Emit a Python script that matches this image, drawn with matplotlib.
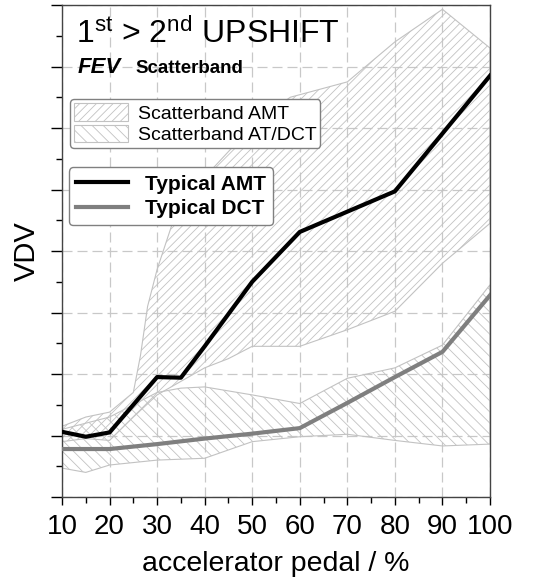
import matplotlib.pyplot as plt
import numpy as np

plt.rcParams['font.family'] = ['Liberation Sans', 'DejaVu Sans']
plt.rcParams['mathtext.default'] = 'regular'
plt.rcParams['hatch.linewidth'] = 0.6

# typical curves
pedal_amt = [10, 15, 20, 30, 35, 40, 50, 60, 80, 100]
vdv_amt = [1.06, 0.98, 1.05, 1.95, 1.94, 2.45, 3.5, 4.31, 4.97, 6.85]
pedal_dct = [10, 20, 30, 40, 50, 60, 70, 80, 90, 100]
vdv_dct = [0.78, 0.78, 0.86, 0.95, 1.03, 1.12, 1.53, 1.95, 2.36, 3.28]

# scatterband AMT (upper / lower edge)
amt_up_x = [10, 15, 20, 25, 26.5, 28, 30, 33, 36, 40, 46, 50, 58, 70, 80, 90, 100]
amt_up_y = [1.15, 1.3, 1.38, 1.7, 2.3, 3.1, 3.7, 4.4, 4.85, 5.2, 5.7, 6.05, 6.5, 6.75, 7.4, 7.93, 7.3]
amt_lo_x = [10, 15, 20, 25, 30, 40, 45, 50, 60, 70, 80, 90, 100]
amt_lo_y = [0.9, 0.95, 0.92, 1.3, 1.66, 2.1, 2.25, 2.45, 2.45, 2.72, 3.02, 3.8, 4.45]

# scatterband AT/DCT (upper / lower edge)
dct_up_x = [10, 15, 20, 25, 30, 35, 40, 50, 60, 70, 80, 90, 100]
dct_up_y = [1.1, 1.2, 1.3, 1.5, 1.7, 1.77, 1.79, 1.66, 1.52, 1.93, 2.1, 2.47, 3.45]
dct_lo_x = [10, 15, 20, 30, 40, 50, 60, 70, 80, 90, 100]
dct_lo_y = [0.47, 0.4, 0.52, 0.6, 0.63, 0.9, 0.98, 1.02, 0.92, 0.83, 0.86]

xticks = [10, 20, 30, 40, 50, 60, 70, 80, 90, 100]


def band(ax, xu, yu, xl, yl, hatch, label):
    xs = np.r_[xu, xl[::-1]]
    ys = np.r_[yu, yl[::-1]]
    return ax.fill(xs, ys, facecolor='none', edgecolor='#c2c2c2', hatch=hatch,
                   linewidth=0.8, label=label, zorder=2)[0]


fig = plt.figure(figsize=(5.37, 5.79), dpi=100)
ax = fig.add_axes([62 / 537, 82 / 579, 428 / 537, 492 / 579])

p1 = band(ax, amt_up_x, amt_up_y, amt_lo_x, amt_lo_y, '////', 'Scatterband AMT')
p2 = band(ax, dct_up_x, dct_up_y, dct_lo_x, dct_lo_y, '\\\\\\', 'Scatterband AT/DCT')

l1, = ax.plot(pedal_amt, vdv_amt, color='black', linewidth=3, label='Typical AMT', zorder=4)
l2, = ax.plot(pedal_dct, vdv_dct, color='#7f7f7f', linewidth=3, label='Typical DCT', zorder=3)

ax.set_xlim(10, 100)
ax.set_ylim(0, 8)
ax.set_xticks(xticks)
ax.set_xticks(np.arange(15, 100, 10), minor=True)
ax.set_yticks(np.arange(0, 9, 1))
ax.set_yticks(np.arange(0.5, 8, 1), minor=True)
ax.set_yticklabels([])
ax.tick_params(axis='x', which='major', direction='out', length=6, width=1, labelsize=20, pad=6)
ax.tick_params(axis='x', which='minor', direction='out', length=4, width=1)
ax.tick_params(axis='y', which='major', direction='out', length=8, width=1)
ax.tick_params(axis='y', which='minor', direction='out', length=4, width=1)
for s in ax.spines.values():
    s.set_color('#444444')
    s.set_linewidth(1.0)
ax.grid(True, which='major', color='#c8c8c8', linestyle=(0, (8, 4)), linewidth=0.9, zorder=1)
ax.set_axisbelow(True)

ax.set_xlabel('accelerator pedal / %', fontsize=20.5, labelpad=8)
ax.set_ylabel('VDV', fontsize=21, labelpad=4)

ax.text(0.033, 0.922, '1$^{st}$ > 2$^{nd}$ UPSHIFT', transform=ax.transAxes, fontsize=23)
ax.text(0.037, 0.862, 'FEV', transform=ax.transAxes, fontsize=16, fontweight='bold', style='italic')
ax.text(0.171, 0.862, 'Scatterband', transform=ax.transAxes, fontsize=13.5, fontweight='bold')

leg1 = ax.legend(handles=[p1, p2], loc='upper left', bbox_to_anchor=(0.018, 0.808),
                 fontsize=14, frameon=True, fancybox=True, framealpha=1, edgecolor='#808080',
                 handlelength=2.8, handleheight=1.0, handletextpad=0.5, borderpad=0.2,
                 labelspacing=0.1, borderaxespad=0)
leg1.get_frame().set_linewidth(1.0)
ax.add_artist(leg1)
leg2 = ax.legend(handles=[l1, l2], loc='upper left', bbox_to_anchor=(0.016, 0.67),
                 prop={'size': 15, 'weight': 'bold'}, frameon=True, fancybox=True, framealpha=1,
                 edgecolor='#808080', handlelength=2.5, handletextpad=0.8, borderpad=0.35,
                 labelspacing=0.25, borderaxespad=0)
leg2.get_frame().set_linewidth(1.0)

fig.savefig('out.png', dpi=100)
